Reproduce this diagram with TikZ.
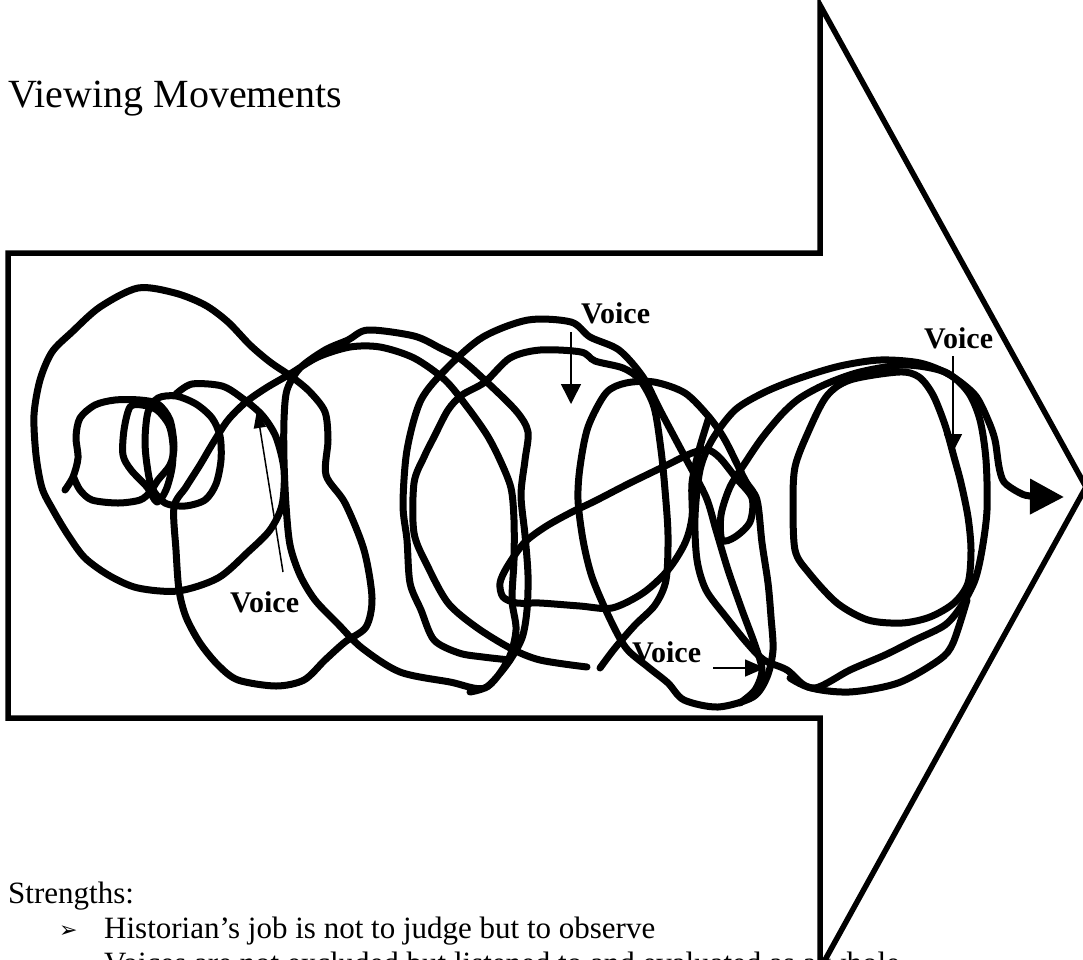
\documentclass[tikz,border=0pt]{standalone}
\usepackage{fontspec}
\setmainfont{Liberation Serif}
\newfontfamily\dejavu{DejaVu Sans}
\usetikzlibrary{arrows.meta}
\tikzset{
  scribble/.style={line width=7pt, line join=round, line cap=round},
  bigarrow/.style={line width=5.5pt, line join=miter},
  voicelabel/.style={anchor=base west, inner sep=0pt, font=\fontsize{30}{36}\selectfont\bfseries},
  voicearrow/.style={line width=1.5pt},
  bodytext/.style={anchor=base west, inner sep=0pt, font=\fontsize{31}{37}\selectfont},
  bullet/.style={anchor=base west, inner sep=0pt, font=\dejavu\fontsize{22}{26}\selectfont},
}
\begin{document}
\begin{tikzpicture}[x=1pt,y=-1pt]
\useasboundingbox (0,0) rectangle (1083,959);
\clip (0,0) rectangle (1083,959);
\fill[white] (0,0) rectangle (1083,959);

% big arrow outline
\draw[bigarrow] (8,253) -- (820,253) -- (820,5) -- (1086,487) -- (820,969) -- (820,718) -- (8,718) -- cycle;

% title
\node[anchor=base west, inner sep=0pt, font=\fontsize{40}{48}\selectfont] (title) at (8,107) {Viewing Movements};

% inner spiral
\draw[scribble] plot[smooth, tension=0.5] coordinates {(65,490) (73,477) (78,458) (76,437) (80,418) (95,405) (115,400) (140,400) (158,404) (170,420) (174,447) (170,465) (158,480) (150,492) (140,500) (118,503) (92,500) (80,490) (74,478)};
\draw[scribble] plot[smooth cycle, tension=0.5] coordinates {(130,407) (124,430) (123,455) (131,470) (147,487) (157,502) (166,490) (172,468) (173,445) (169,425) (157,410) (142,405)};
\draw[scribble] plot[smooth cycle, tension=0.5] coordinates {(148,412) (145,440) (147,465) (152,488) (165,503) (185,506) (205,500) (216,484) (221,460) (220,436) (212,418) (196,404) (176,396) (158,398)};

% first long stroke: L1, L2, L3
\draw[scribble] plot[smooth, tension=0.5] coordinates {(176,394) (192,384) (222,386) (242,398) (262,415) (276,437) (284,470) (282,505) (270,530) (248,552) (218,578) (178,591) (138,588) (110,576) (85,558) (68,535) (53,510) (42,488) (36,455) (34,415) (40,380) (52,352) (72,332) (100,307) (138,288) (175,293) (205,305) (228,322) (250,345) (270,362) (292,377) (310,392) (325,412) (328,440) (326,475) (345,503) (364,550) (372,598) (366,627) (345,642) (325,660) (304,680) (276,686) (238,680) (218,665) (200,643) (186,617) (179,590) (176,550) (174,507) (186,487) (200,465) (213,443) (228,420) (246,402) (266,388) (290,374) (318,357) (350,347) (380,347) (414,358) (445,380) (468,408) (487,435) (500,460) (511,488) (514,520) (514,560) (512,600) (516,630) (508,660) (485,688) (450,682) (400,672) (362,648) (338,624) (315,600) (300,575) (290,545) (286,505) (284,460) (284,420) (287,390) (300,368) (325,350) (348,340) (368,330) (414,336) (440,348) (462,360) (490,385) (517,412) (528,432) (525,460) (521,495) (525,535) (528,575) (527,610) (522,638) (508,663) (488,686) (470,692)};

% U1 loop
\draw[scribble] plot[smooth, tension=0.5] coordinates {(510,660) (483,657) (459,653) (434,640) (421,610) (410,583) (407,540) (403,505) (407,450) (421,400) (448,367) (483,337) (528,320) (571,322) (590,337) (619,350) (643,377) (660,410) (685,457) (706,497) (716,530) (728,570) (742,610) (755,645) (762,670) (755,690) (740,703)};

% U2 loop
\draw[scribble] plot[smooth, tension=0.5] coordinates {(587,667) (540,660) (510,648) (476,627) (448,603) (428,567) (414,533) (414,483) (424,457) (434,437) (448,410) (462,395) (485,382) (510,358) (540,350) (581,352) (595,361) (623,368) (640,380) (654,407) (661,450) (665,490) (668,535) (666,580) (655,605) (635,625) (615,648) (600,668)};

% L5/L6 loop
\draw[scribble] plot[smooth cycle, tension=0.5] coordinates {(626,383) (654,382) (685,393) (709,417) (725,440) (745,480) (757,500) (762,543) (768,583) (771,617) (773,650) (767,677) (753,697) (718,707) (684,700) (668,683) (648,667) (626,648) (609,617) (592,577) (583,540) (578,500) (580,467) (588,427) (606,393)};

% inner stroke with small loop, up into L7
\draw[scribble] plot[smooth, tension=0.5] coordinates {(709,417) (699,450) (692,483) (692,517) (685,543) (668,570) (643,593) (612,608) (580,606) (540,603) (517,603) (503,597) (500,583) (507,567) (524,543) (545,527) (570,513) (595,501) (628,484) (665,466) (692,453) (708,450) (720,458) (736,478) (752,498) (750,522) (735,537) (722,540) (721,515) (730,487) (745,463) (762,438) (782,414) (800,398) (826,384) (860,372) (905,365) (945,372) (968,392) (980,420) (986,460) (987,510) (982,550) (975,580) (962,605) (945,625) (915,640) (885,655) (850,670) (815,688) (790,678)};

% outer L7 with exit arrow
\draw[scribble, -{Triangle[length=34pt,width=34pt]}] plot[smooth, tension=0.5] coordinates {(967,600) (953,643) (939,660) (898,683) (849,692) (808,687) (787,670) (764,660) (747,643) (726,617) (706,590) (697,560) (695,517) (700,470) (712,440) (735,410) (765,392) (800,378) (840,366) (880,360) (920,363) (950,375) (975,395) (988,420) (995,440) (999,467) (1004,482) (1018,492) (1030,496) (1064,497)};

% L8 inner right loop
\draw[scribble] plot[smooth cycle, tension=0.5] coordinates {(826,397) (850,380) (899,372) (919,377) (933,395) (945,425) (954,457) (961,483) (968,517) (971,550) (968,583) (954,603) (930,617) (902,623) (868,620) (837,603) (809,573) (795,550) (793,500) (795,467) (806,437)};

% Voice labels and arrows
\node[voicelabel] (v1) at (230,612) {Voice};
\coordinate (v1s) at (283,572);
\coordinate (v1e) at (257,410);
\draw[voicearrow, -{Triangle[length=18pt,width=12pt]}] (v1s) -- (v1e);

\node[voicelabel] (v2) at (581,323) {Voice};
\coordinate (v2s) at (571,332);
\coordinate (v2e) at (571,404);
\draw[voicearrow, -{Triangle[length=20pt,width=20pt]}] (v2s) -- (v2e);

\node[voicelabel] (v3) at (924,348) {Voice};
\coordinate (v3s) at (953,356);
\coordinate (v3e) at (953,452);
\draw[voicearrow, -{Triangle[length=18pt,width=18pt]}] (v3s) -- (v3e);

\node[voicelabel] (v4) at (632,662) {Voice};
\coordinate (v4s) at (713,668);
\coordinate (v4e) at (765,668);
\draw[voicearrow, -{Triangle[length=20pt,width=17pt]}] (v4s) -- (v4e);

% bottom text
\node[bodytext] (str) at (8,903) {Strengths:};
\node[bullet] (b1) at (59,937) {➢};
\node[bodytext] (t1) at (104,938) {Historian’s job is not to judge but to observe};
\node[bullet] (b2) at (59,972) {➢};
\node[bodytext] (t2) at (104,973) {Voices are not excluded but listened to and evaluated as a whole};
\end{tikzpicture}
\end{document}
